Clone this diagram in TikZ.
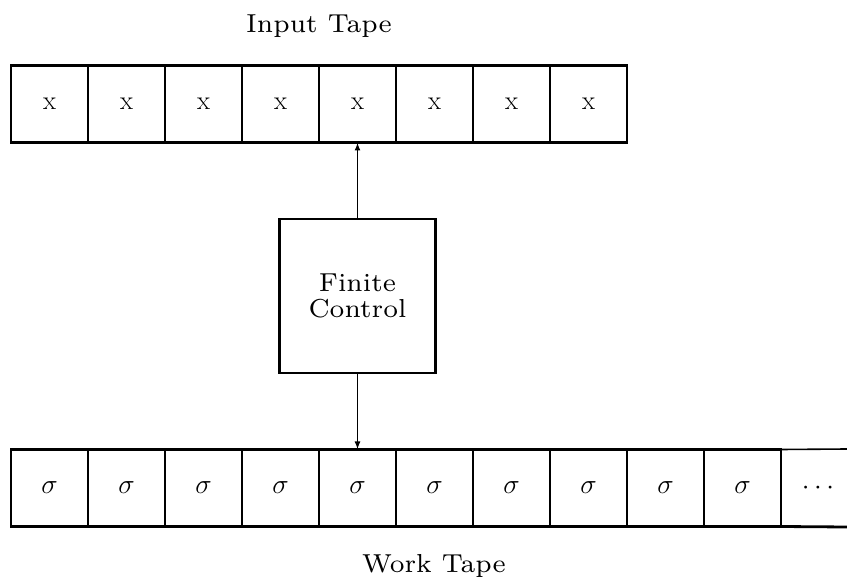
\documentclass[tikz,border=0pt]{standalone}
\usepackage{fontspec}
\usetikzlibrary{arrows.meta}
\newfontfamily\lbfamily{lmroman7-regular.otf}
\newcommand{\wfont}{\lbfamily\fontsize{19.5}{19.5}\selectfont}
\newcommand{\cfont}{\fontsize{20}{20}\selectfont}
\begin{document}
\begin{tikzpicture}[x=0.75pt,y=-0.75pt,
  cell/.style={draw,line width=2.1pt,minimum width=57.75pt,minimum height=57.75pt,outer sep=0pt,inner sep=0pt,font=\cfont},
  ctrl/.style={draw,line width=1.8pt,minimum width=117pt,minimum height=115.5pt,outer sep=0pt,align=center,font=\wfont},
  lbl/.style={font=\wfont,inner sep=0pt},
  thinline/.style={line width=1.2pt},
  thickline/.style={line width=2.1pt},
  link/.style={line width=1.3pt,-{Latex[length=6pt,width=4.5pt]}}]
\useasboundingbox (0,0) rectangle (847,577);
% input tape
\foreach \i in {1,...,8}
  \node[cell] (in\i) at ({11+77*(\i-0.5)},104) {x};
% work tape
\foreach \i in {1,...,10}
  \node[cell] (wk\i) at ({11+77*(\i-0.5)},488) {$\sigma$};
\coordinate (wtop) at (847,449);
\coordinate (wbot) at (847,527);
\draw[thinline] (wk10.north east) -- (wtop);
\draw[thickline] (wk10.south east) -- (wbot);
\node[inner sep=0pt,font=\cfont] (dots) at (818,488) {$\cdots$};
% finite control
\node[ctrl] (fc) at (357.5,296) {Finite\\Control};
\draw[link] (fc.north) -- (in5.south);
\draw[link] (fc.south) -- (wk5.north);
% labels
\node[lbl,anchor=base] (itl) at (319,33) {Input Tape};
\node[lbl,anchor=base] (wtl) at (434,572) {Work Tape};
\end{tikzpicture}
\end{document}
